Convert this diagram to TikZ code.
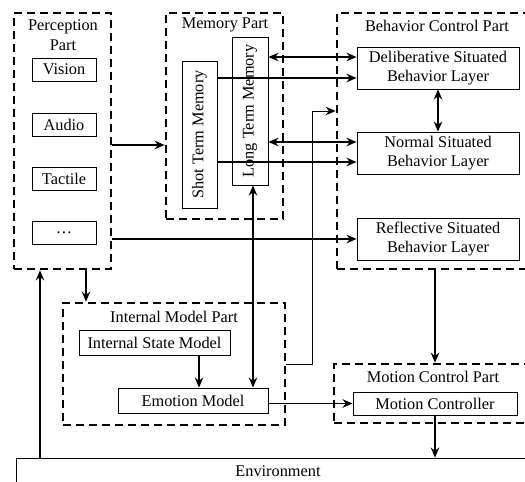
\documentclass[tikz,border=0pt]{standalone}
\usepackage{fontspec}
\setmainfont{Liberation Serif}
\usetikzlibrary{arrows.meta}
\tikzset{>={Stealth[length=10pt,width=8.5pt]}}

\begin{document}
\begin{tikzpicture}[x=1pt,y=-1pt,font=\fontsize{16.3}{19.5}\selectfont]
      \tikzstyle{part} = [draw=black, line width=2.7pt, dash pattern=on 8pt off 5pt, inner sep=0pt]
      \tikzstyle{unit} = [draw=black, line width=0.9pt, inner sep=0pt, align=center]
      \tikzstyle{flow} = [line width=1.9pt, ->]
      \useasboundingbox (0,0) rectangle (525,482);
      \clip (0,0) rectangle (525,482);

      % perception part
      \node[part, minimum width=97pt, minimum height=256pt] (perc) at (62.5,141) {};
      \node[align=center] (perct) at (63,35) {Perception\\Part};
      \node[unit, minimum width=64pt, minimum height=23pt] (vis) at (64,69.5) {Vision};
      \node[unit, minimum width=64pt, minimum height=23pt] (aud) at (64,124.5) {Audio};
      \node[unit, minimum width=64pt, minimum height=23pt] (tac) at (64,178.5) {Tactile};
      \node[unit, minimum width=64pt, minimum height=23pt] (dots) at (64,232.5) {\ldots};

      % memory part
      \node[part, minimum width=117pt, minimum height=206pt] (mem) at (224.5,116) {};
      \node (memt) at (225,25) {Memory Part};
      \node[unit, rotate=90, minimum width=147pt, minimum height=35pt] (stm) at (199.5,134.5) {Shot Term Memory};
      \node[unit, rotate=90, minimum width=148pt, minimum height=36pt] (ltm) at (250,111) {Long Term Memory};

      % behavior control part
      \node[part, minimum width=203pt, minimum height=256pt] (bcp) at (438.5,141) {};
      \node (bcpt) at (437,26) {Behavior Control Part};
      \node[unit, minimum width=162pt, minimum height=42pt] (dlb) at (438,68) {Deliberative Situated\\Behavior Layer};
      \node[unit, minimum width=162pt, minimum height=42pt] (nrm) at (438,153) {Normal Situated\\Behavior Layer};
      \node[unit, minimum width=162pt, minimum height=42pt] (rfl) at (438,239) {Reflective Situated\\Behavior Layer};

      % internal model part
      \node[part, minimum width=222pt, minimum height=122pt] (imp) at (174,364) {};
      \node (impt) at (174,317) {Internal Model Part};
      \node[unit, minimum width=151pt, minimum height=25pt] (ism) at (154.5,342.5) {Internal State Model};
      \node[unit, minimum width=150pt, minimum height=25pt] (emo) at (193,400.5) {Emotion Model};

      % motion control part
      \node[part, minimum width=206pt, minimum height=59pt] (mcp) at (437,393.5) {};
      \node (mcpt) at (433,377) {Motion Control Part};
      \node[unit, minimum width=164pt, minimum height=23pt] (mc) at (435,403.5) {Motion Controller};

      \node[unit, minimum width=524pt, minimum height=26pt] (env) at (278,471) {Environment};

      % connectors
      \path ([yshift=-4pt]perc.east) coordinate (pm)
            ([yshift=11pt]dlb.west) coordinate (d1) ([yshift=-10pt]dlb.west) coordinate (d2)
            ([yshift=11pt]nrm.west) coordinate (n1) ([yshift=-9pt]nrm.west) coordinate (n2)
            ([xshift=23.5pt]perc.south) coordinate (pi) ([xshift=-22.5pt]perc.south) coordinate (ep)
            ([xshift=3pt]ltm.west) coordinate (le) ([xshift=6pt]emo.north) coordinate (ie);

      \draw[flow] (pm) -- (mem.west |- pm);
      \draw[flow,<->] (ltm.south |- d1) -- (d1);
      \draw[flow] (stm.south |- d2) -- (d2);
      \draw[flow,<->] (ltm.south |- n1) -- (n1);
      \draw[flow] (stm.south |- n2) -- (n2);
      \draw[flow,<->] (dlb.south) -- (nrm.north);
      \draw[flow] (perc.east |- rfl.west) -- (rfl.west);
      \draw[line width=0.9pt, ->] (imp.east) -- ++(26,0) |- (bcp.west |- ltm.center);
      \draw[flow,<->] (le) -- (le |- emo.north);
      \draw[flow] (pi) -- (pi |- imp.north);
      \draw[flow] (ep |- env.north) -- (ep);
      \draw[flow] (ie |- ism.south) -- (ie);
      \draw[flow] (emo.east |- mc.west) -- (mc.west);
      \draw[flow] (mc |- bcp.south) -- (mc |- mcp.north);
      \draw[flow] (mc.south) -- (mc |- env.north);

    \end{tikzpicture}
\end{document}
